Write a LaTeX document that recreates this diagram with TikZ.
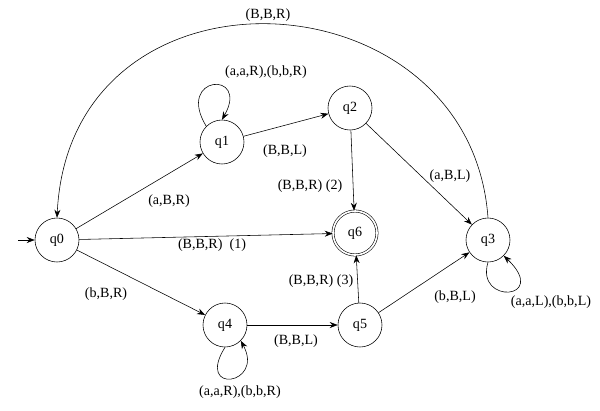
\documentclass[tikz,border=0pt]{standalone}
\usepackage{fontspec}
\setmainfont{Liberation Serif}
\usetikzlibrary{arrows.meta}
\tikzset{
  state/.style={draw, circle, minimum size=1.1cm, inner sep=0pt},
  accept/.style={state, double, double distance=1.2pt},
  trans/.style={-{Stealth[length=2mm]}},
  lbl/.style={inner sep=1pt}
}
\begin{document}
\begin{tikzpicture}[x=0.025cm,y=-0.025cm,font=\fontsize{10}{12}\selectfont]
            \useasboundingbox (0,0) rectangle (600,410);
            \node[state] (q0) at (57,240) {q0};
            \node[state] (q1) at (222,142) {q1};
            \node[state] (q2) at (350,108) {q2};
            \node[accept] (q6) at (355,233) {q6};
            \node[state] (q3) at (488,240) {q3};
            \node[state] (q4) at (225,325) {q4};
            \node[state] (q5) at (360,325) {q5};
            \coordinate (start) at (18,240);

            \draw[trans] (start) -- (q0);
            \draw[trans] (q0) -- (q1);
            \draw[trans] (q1) -- (q2);
            \draw[trans] (q2) -- (q6);
            \draw[trans] (q2) -- (q3);
            \draw[trans] (q0) -- (q6);
            \draw[trans] (q0) -- (q4);
            \draw[trans] (q4) -- (q5);
            \draw[trans] (q5) -- (q6);
            \draw[trans] (q5) -- (q3);
            \draw[trans] (q3.north) .. controls (470,-30) and (70,-50) .. (q0.north);
            \draw[trans] (q1.north west) .. controls (175,75) and (250,70) .. (q1.north);
            \draw[trans] (q4.south) .. controls (195,395) and (265,385) .. (q4.south east);
            \draw[trans] (q3.south) .. controls (475,305) and (550,300) .. (q3.south east);

            \node[lbl] (l0) at (268,15) {(B,B,R)};
            \node[lbl] (l1) at (266,72) {(a,a,R),(b,b,R)};
            \node[lbl] (l2) at (285,151) {(B,B,L)};
            \node[lbl] (l3) at (169,201) {(a,B,R)};
            \node[lbl] (l4) at (310,186) {(B,B,R) (2)};
            \node[lbl] (l5) at (450,176) {(a,B,L)};
            \node[lbl] (l6) at (212,245) {(B,B,R)\ \ (1)};
            \node[lbl] (l7) at (106,294) {(b,B,R)};
            \node[lbl] (l8) at (240,392) {(a,a,R),(b,b,R)};
            \node[lbl] (l9) at (296,341) {(B,B,L)};
            \node[lbl] (l10) at (321,281) {(B,B,R) (3)};
            \node[lbl] (l11) at (455,297) {(b,B,L)};
            \node[lbl] (l12) at (551,302) {(a,a,L),(b,b,L)};
\end{tikzpicture}
\end{document}
